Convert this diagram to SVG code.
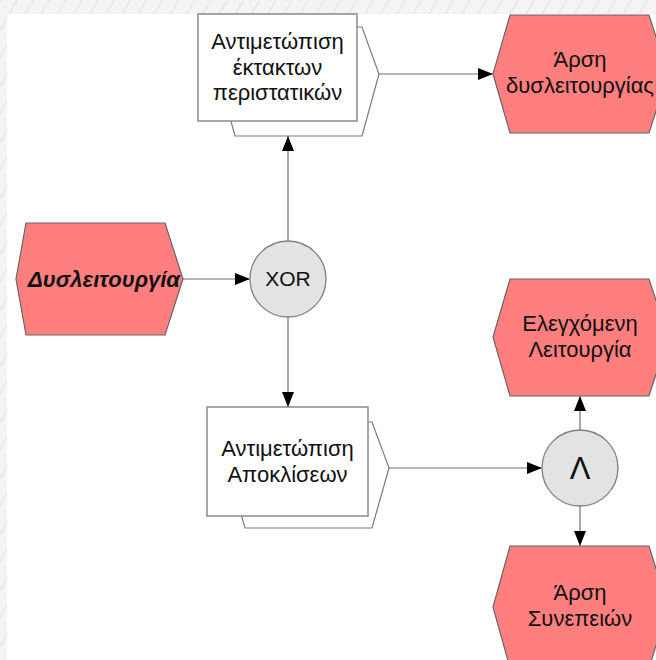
<svg xmlns="http://www.w3.org/2000/svg" width="656" height="660" viewBox="0 0 656 660">
  <defs>
    <pattern id="hatch" width="14" height="14" patternUnits="userSpaceOnUse" patternTransform="rotate(30)">
      <rect width="14" height="14" fill="#f4f4f4"/>
      <line x1="0" y1="0" x2="0" y2="14" stroke="#e6e6e6" stroke-width="3"/>
    </pattern>
    <marker id="arrow" viewBox="0 0 15 12" refX="15" refY="6" markerWidth="15" markerHeight="12" markerUnits="userSpaceOnUse" orient="auto">
      <path d="M0,0 L15,6 L0,12 z" fill="#000"/>
    </marker>
  </defs>
  <style>
    .event { fill: #ff7f7f; stroke: #666; stroke-width: 1.2; }
    .func { fill: #fff; stroke: #8a8a8a; stroke-width: 1.5; }
    .back { fill: #fff; stroke: #7a7a7a; stroke-width: 1.2; }
    .gate { fill: #e3e3e3; stroke: #808080; stroke-width: 1.3; }
    .conn { fill: none; stroke: #707070; stroke-width: 1.2; marker-end: url(#arrow); }
    text { font-family: "Liberation Sans", Arial, sans-serif; font-size: 22px; fill: #111; text-anchor: middle; }
    .strong { font-weight: bold; font-style: italic; }
    .op { font-size: 21px; }
    .big { font-size: 31px; }
  </style>

  <!-- page background -->
  <rect x="0" y="0" width="656" height="660" fill="url(#hatch)"/>
  <rect x="7" y="14" width="649" height="646" fill="#fff"/>

  <!-- connectors -->
  <g id="connectors">
    <line class="conn" x1="183" y1="279" x2="250" y2="279"/>
    <line class="conn" x1="288" y1="241" x2="288" y2="136"/>
    <line class="conn" x1="379" y1="74" x2="493" y2="74"/>
    <line class="conn" x1="288" y1="317" x2="288" y2="407"/>
    <line class="conn" x1="389" y1="468" x2="542" y2="468"/>
    <line class="conn" x1="580" y1="430" x2="580" y2="396"/>
    <line class="conn" x1="580" y1="506" x2="580" y2="546"/>
  </g>

  <!-- functions -->
  <g id="func-emergency">
    <polygon class="back" points="235,27 362,27 379,74 362,136 235,136 218,74"/>
    <rect class="func" x="198" y="14" width="159" height="107"/>
    <text x="277.5" y="49">Αντιμετώπιση</text>
    <text x="277.5" y="75">έκτακτων</text>
    <text x="277.5" y="100">περιστατικών</text>
  </g>

  <g id="func-deviations">
    <polygon class="back" points="245,422 372,422 389,468 372,528 245,528 228,468"/>
    <rect class="func" x="207" y="407" width="161" height="109"/>
    <text x="287.5" y="456">Αντιμετώπιση</text>
    <text x="287.5" y="482">Αποκλίσεων</text>
  </g>

  <!-- events -->
  <g id="ev-malfunction">
    <polygon class="event" points="26,223 165,223 183,279 165,335 26,335 16,279"/>
    <text class="strong" x="104" y="287">Δυσλειτουργία</text>
  </g>

  <g id="ev-resolved">
    <polygon class="event" points="510,15 649,15 668,74 649,133 510,133 493,74"/>
    <text x="580" y="67">Άρση</text>
    <text x="580" y="93">δυσλειτουργίας</text>
  </g>

  <g id="ev-controlled">
    <polygon class="event" points="510,279 649,279 668,337 649,396 510,396 493,337"/>
    <text x="580" y="331">Ελεγχόμενη</text>
    <text x="580" y="357">Λειτουργία</text>
  </g>

  <g id="ev-consequences">
    <polygon class="event" points="510,546 649,546 668,607 649,668 510,668 493,607"/>
    <text x="580" y="600">Άρση</text>
    <text x="580" y="626">Συνεπειών</text>
  </g>

  <!-- gates -->
  <g id="gate-xor">
    <circle class="gate" cx="288" cy="279" r="38"/>
    <text class="op" x="288" y="286">XOR</text>
  </g>

  <g id="gate-and">
    <circle class="gate" cx="580" cy="468" r="38"/>
    <text class="big" x="580" y="479">Λ</text>
  </g>
</svg>
